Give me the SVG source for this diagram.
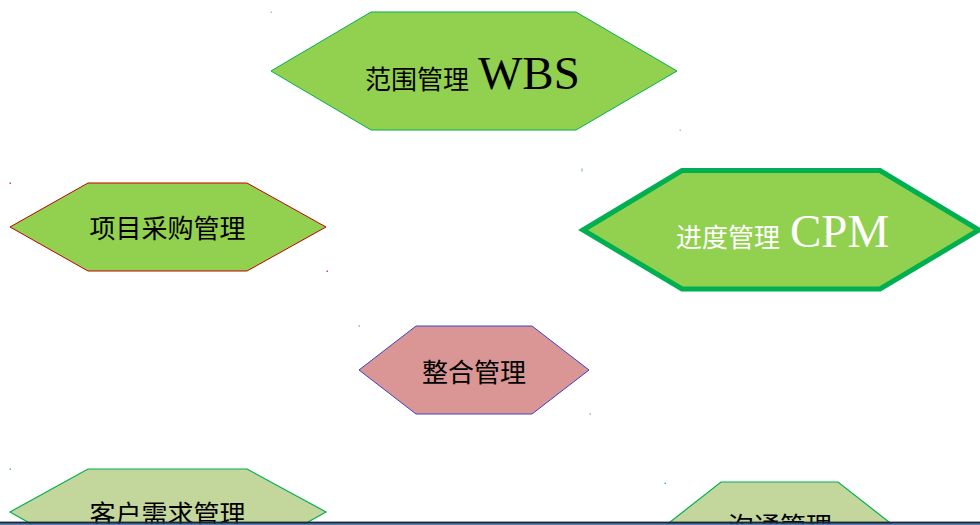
<svg xmlns="http://www.w3.org/2000/svg" width="980" height="525" viewBox="0 0 980 525">
<style>
.cn{font-family:"Noto Sans CJK SC","Noto Sans",sans-serif;font-size:26px;fill:#000}
.en{font-family:"Liberation Serif","DejaVu Serif",serif;font-size:47px;fill:#000}
.w{fill:#fff}
.g{fill:#92D050}
.lg{fill:#C3D69B}
</style>
<rect width="980" height="525" fill="#fff"/>
<g id="node-scope">
<polygon class="g" points="271,71 371,12 576,12 677,71 576,130 371,130" stroke="#00B050" stroke-width="1"/>
<text class="cn" x="365" y="89">范围管理</text>
<text class="en" x="478" y="89">WBS</text>
</g>
<g id="node-procurement">
<polygon class="g" points="10,227 88,183 247,183 326,227 247,271 88,271" stroke="#C00000" stroke-width="1"/>
<text class="cn" x="167.5" y="238" text-anchor="middle">项目采购管理</text>
</g>
<g id="node-schedule">
<polygon class="g" points="583,230 682,170.5 880,170.5 979,230 880,289 682,289" stroke="#00B050" stroke-width="5"/>
<text class="cn w" x="676" y="247">进度管理</text>
<text class="en w" x="790" y="247">CPM</text>
</g>
<g id="node-integration">
<polygon points="359,370 416,326 532,326 589,370 532,414 416,414" fill="#D99694" stroke="#4040C8" stroke-width="1"/>
<text class="cn" x="474" y="382" text-anchor="middle">整合管理</text>
</g>
<g id="node-customer">
<polygon class="lg" points="10,512 88,469 247,469 326,512 247,556 88,556" stroke="#00B050" stroke-width="1.2"/>
<text class="cn" x="167.5" y="523.5" text-anchor="middle">客户需求管理</text>
</g>
<g id="node-communication">
<polygon class="lg" points="665,526 721,482 838,482 894,526 838,570 721,570" stroke="#00B050" stroke-width="1.2"/>
<text class="cn" x="780" y="536" text-anchor="middle">沟通管理</text>
</g>
<g id="connectors"/>
<g id="marks" opacity="0.7">
<rect x="270.5" y="11.5" width="1.5" height="1.5" fill="#66c0a0"/>
<rect x="679.5" y="129.5" width="1.5" height="1.5" fill="#66c0a0"/>
<rect x="9.5" y="182.5" width="1.5" height="1.5" fill="#c00000"/>
<rect x="326.5" y="270.5" width="1.5" height="1.5" fill="#c00000"/>
<rect x="581.5" y="168.5" width="1" height="3" fill="#00B050"/>
<rect x="358.5" y="325.5" width="1.5" height="1" fill="#4040C8"/>
<rect x="589.5" y="413.5" width="1.5" height="1" fill="#4040C8"/>
<rect x="9.5" y="468.5" width="1.5" height="1.5" fill="#00B050"/>
<rect x="664.5" y="482.5" width="1.5" height="1.5" fill="#00B050"/>
</g>
<rect x="0" y="521.6" width="980" height="2.2" fill="#1c2636"/>
<rect x="0" y="523.8" width="980" height="1.2" fill="#4F81BD"/>
</svg>
